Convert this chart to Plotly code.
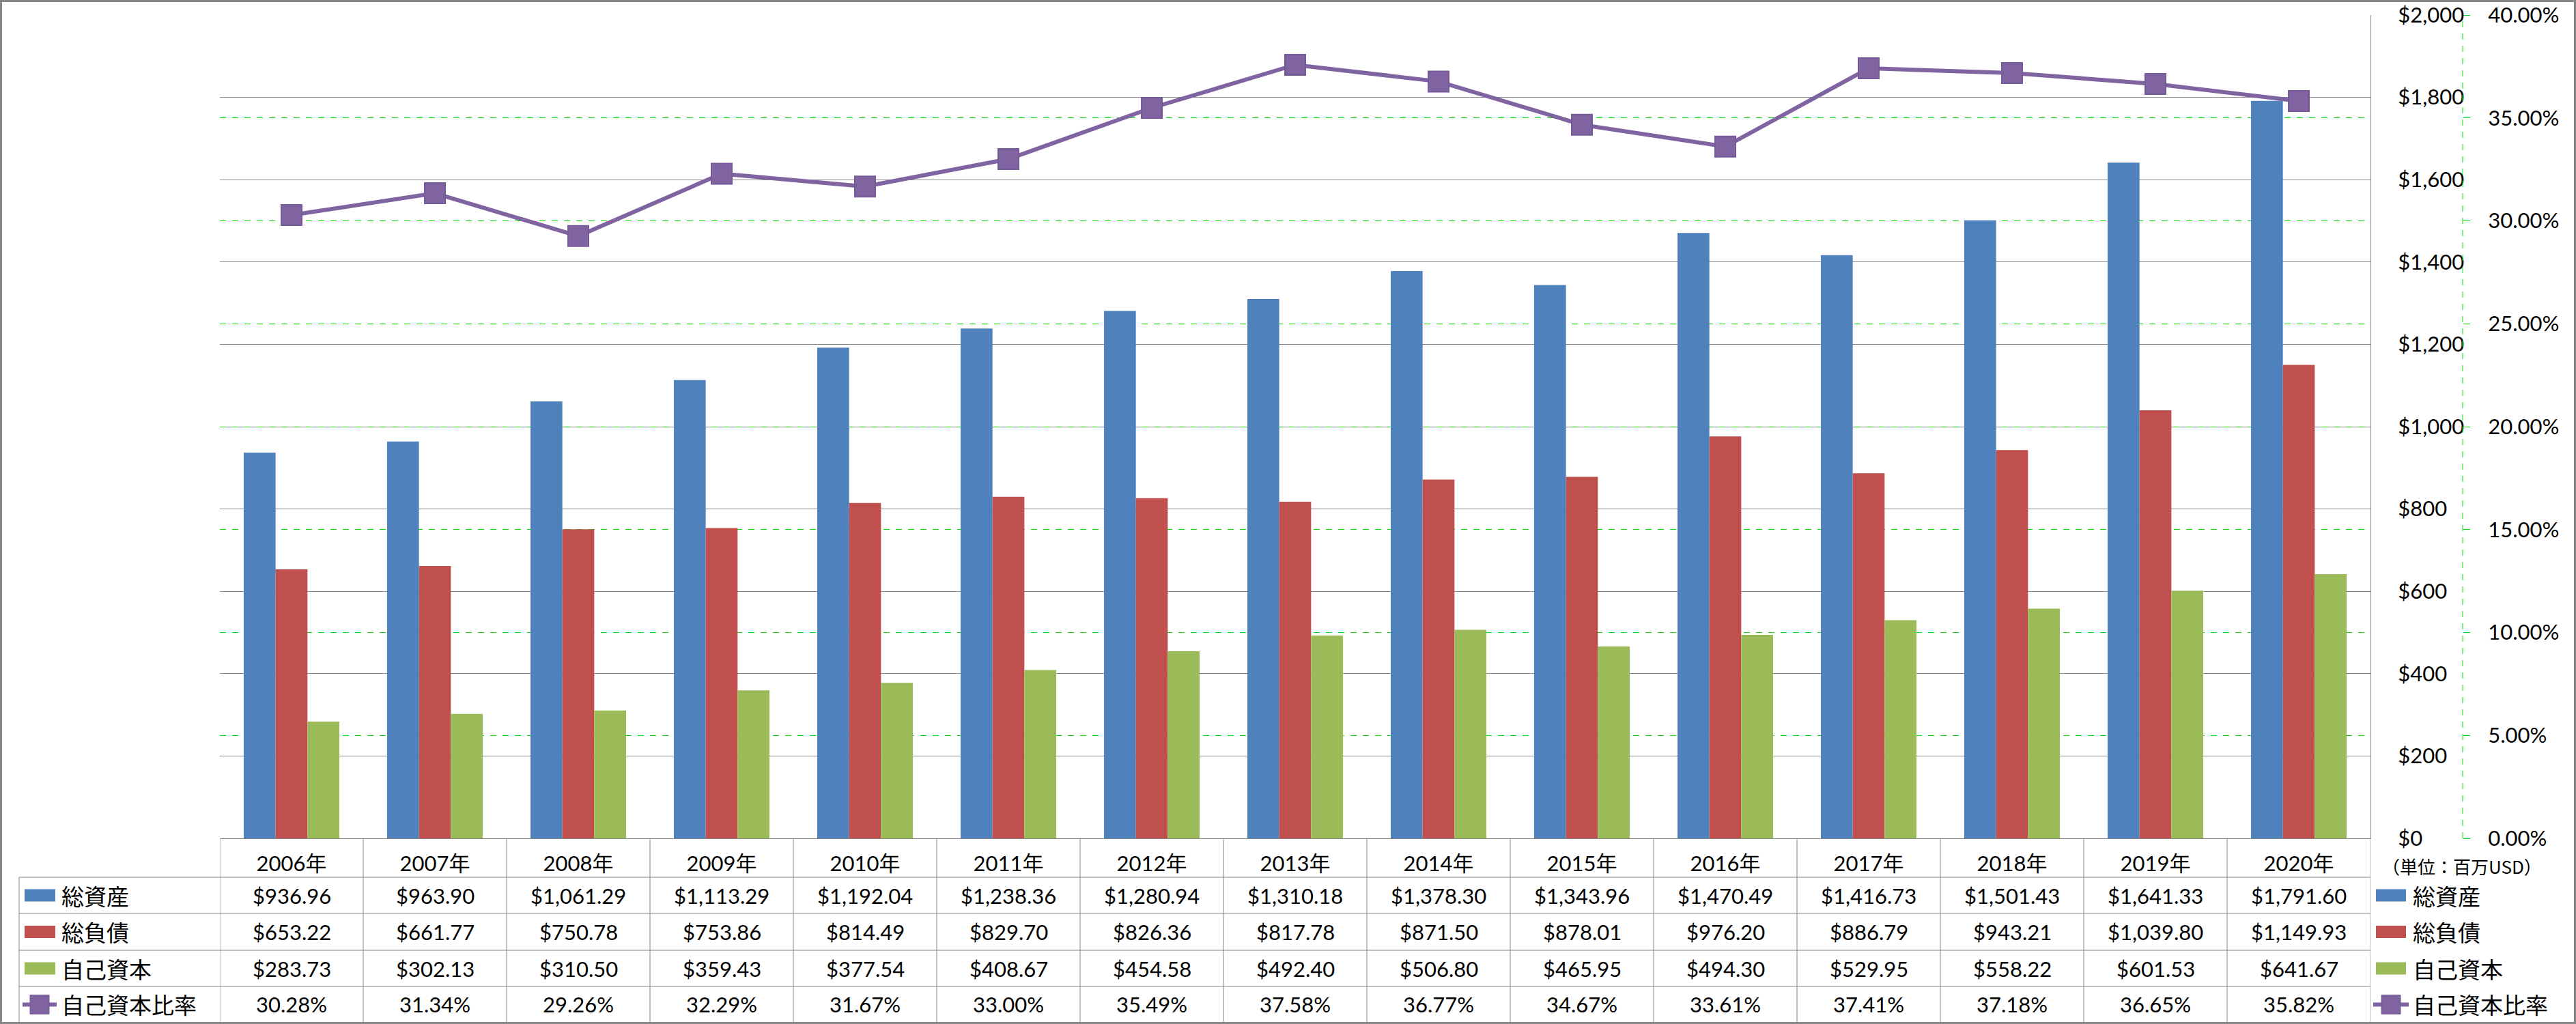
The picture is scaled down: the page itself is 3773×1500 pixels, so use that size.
import plotly.graph_objects as go

years = ["2006年", "2007年", "2008年", "2009年", "2010年", "2011年", "2012年", "2013年",
         "2014年", "2015年", "2016年", "2017年", "2018年", "2019年", "2020年"]
total_assets = [936.96, 963.90, 1061.29, 1113.29, 1192.04, 1238.36, 1280.94, 1310.18,
                1378.30, 1343.96, 1470.49, 1416.73, 1501.43, 1641.33, 1791.60]
total_liab = [653.22, 661.77, 750.78, 753.86, 814.49, 829.70, 826.36, 817.78,
              871.50, 878.01, 976.20, 886.79, 943.21, 1039.80, 1149.93]
equity = [283.73, 302.13, 310.50, 359.43, 377.54, 408.67, 454.58, 492.40,
          506.80, 465.95, 494.30, 529.95, 558.22, 601.53, 641.67]
equity_ratio = [30.28, 31.34, 29.26, 32.29, 31.67, 33.00, 35.49, 37.58,
                36.77, 34.67, 33.61, 37.41, 37.18, 36.65, 35.82]
series_names = ["総資産", "総負債", "自己資本", "自己資本比率"]
unit_label = "（単位：百万USD）"

BLUE, RED, GREEN, PURPLE = "#4F81BD", "#C0504D", "#9BBB59", "#8064A2"
GRAY = "#868686"
GRID_GREEN = "#00E000"

W, H = 3773, 1500
ML, MR, MT, MB = 322, 100, 22, 272
PW = W - ML - MR          # plot area width (paper)
PH = H - MT - MB          # plot area height
PLOT_RIGHT = 3472
X_DOM = (PLOT_RIGHT - ML) / PW
Y2_POS_PX = 3607


def px(xp):
    return (xp - ML) / PW


def py(yp):
    return (H - MB - yp) / PH


NUM_FONT = "Lato, Noto Sans CJK JP, sans-serif"
JP_FONT = "Noto Sans CJK JP, sans-serif"
NUM_SIZE = 31

fig = go.Figure()
for name, vals, col in zip(series_names[:3], [total_assets, total_liab, equity], [BLUE, RED, GREEN]):
    fig.add_trace(go.Bar(x=years, y=vals, name=name, marker=dict(color=col, line=dict(width=0)),
                         showlegend=False))
fig.add_trace(go.Scatter(x=years, y=[v / 100 for v in equity_ratio], name=series_names[3], yaxis="y2",
                         mode="lines+markers",
                         line=dict(color=PURPLE, width=6),
                         marker=dict(symbol="square", size=30, color=PURPLE,
                                     line=dict(color="#76599A", width=2)),
                         showlegend=False))

n = len(years)
fig.update_layout(
    width=W, height=H,
    margin=dict(l=ML, r=MR, t=MT, b=MB, pad=0, autoexpand=False),
    paper_bgcolor="white", plot_bgcolor="white",
    barmode="group", bargap=0.333, bargroupgap=0,
    showlegend=False,
    font=dict(family=NUM_FONT, size=NUM_SIZE, color="black"),
    xaxis=dict(domain=[0, X_DOM], type="category", range=[-0.5, n - 0.5], autorange=False,
               showgrid=False, zeroline=False,
               showline=True, linecolor=GRAY, linewidth=1,
               ticks="", tickfont=dict(family=NUM_FONT, size=NUM_SIZE, color="black"),
               ticklabelstandoff=10),
    yaxis=dict(side="right", range=[0, 2000], autorange=False, dtick=200, tickprefix="$", tickformat=",",
               showgrid=True, gridcolor=GRAY, gridwidth=1, zeroline=False,
               showline=True, linecolor=GRAY, linewidth=1,
               ticks="", ticklabelstandoff=33,
               tickfont=dict(family=NUM_FONT, size=NUM_SIZE, color="black")),
    yaxis2=dict(overlaying="y", side="right", anchor="free", position=px(Y2_POS_PX),
                range=[0, 0.40], autorange=False, dtick=0.05, tickformat=".2%",
                showgrid=True, gridcolor=GRID_GREEN, gridwidth=1, griddash="dash",
                zeroline=False, showline=False,
                ticks="outside", ticklen=10, tickcolor=GRID_GREEN, tickwidth=1,
                ticklabelstandoff=20,
                tickfont=dict(family=NUM_FONT, size=NUM_SIZE, color="black")),
)

shapes = []
line_style = dict(color=GRAY, width=1)
# table horizontal lines
row_bounds = [1285, 1338, 1392, 1445]
for yb in row_bounds:
    shapes.append(dict(type="line", xref="paper", yref="paper", x0=px(28), x1=X_DOM,
                       y0=py(yb), y1=py(yb), line=line_style))
# table vertical lines at category boundaries
for k in range(n + 1):
    shapes.append(dict(type="line", xref="x", yref="paper", x0=k - 0.5, x1=k - 0.5,
                       y0=py(1228), y1=py(1498), line=line_style))
# row label column left border
shapes.append(dict(type="line", xref="paper", yref="paper", x0=px(28), x1=px(28),
                   y0=py(1285), y1=py(1498), line=line_style))
# secondary axis dashed line
shapes.append(dict(type="line", xref="paper", yref="y2", x0=px(Y2_POS_PX), x1=px(Y2_POS_PX),
                   y0=0, y1=0.40, line=dict(color=GRID_GREEN, width=1, dash="dash")))
# outer border
shapes.append(dict(type="rect", xref="paper", yref="paper", x0=px(1.5), x1=px(W - 1.5),
                   y0=py(H - 1.5), y1=py(1.5), line=dict(color=GRAY, width=3),
                   fillcolor="rgba(0,0,0,0)", layer="above"))

row_centers = [1311.5, 1365, 1418.5, 1471.5]
colors = [BLUE, RED, GREEN, PURPLE]
annotations = []


def add_key(cx_left, cx_right, yc, col, is_line):
    if not is_line:
        shapes.append(dict(type="rect", xref="paper", yref="paper", x0=px(cx_left), x1=px(cx_right),
                           y0=py(yc + 9), y1=py(yc - 9), line=dict(width=0), fillcolor=col))
    else:
        shapes.append(dict(type="line", xref="paper", yref="paper", x0=px(cx_left), x1=px(cx_right),
                           y0=py(yc), y1=py(yc), line=dict(color=col, width=6)))
        mid = (cx_left + cx_right) / 2
        shapes.append(dict(type="rect", xref="paper", yref="paper", x0=px(mid - 14), x1=px(mid + 14),
                           y0=py(yc + 14), y1=py(yc - 14), line=dict(color="#76599A", width=1),
                           fillcolor=col))


for r, (name, yc, col) in enumerate(zip(series_names, row_centers, colors)):
    is_line = r == 3
    # left row label
    if is_line:
        add_key(33, 83, yc, col, True)
    else:
        add_key(36, 81, yc, col, False)
    annotations.append(dict(text=name, xref="paper", yref="paper", x=px(88), y=py(yc),
                            xanchor="left", yanchor="middle", showarrow=False,
                            font=dict(family=JP_FONT, size=33, color="black")))
    # right legend
    if is_line:
        add_key(3476, 3528, yc, col, True)
    else:
        add_key(3480, 3524, yc, col, False)
    annotations.append(dict(text=name, xref="paper", yref="paper", x=px(3532), y=py(yc),
                            xanchor="left", yanchor="middle", showarrow=False,
                            font=dict(family=JP_FONT, size=33, color="black")))

# table values
table_rows = [total_assets, total_liab, equity]
for r, vals in enumerate(table_rows):
    for i, v in enumerate(vals):
        annotations.append(dict(text=f"${v:,.2f}", xref="x", yref="paper", x=years[i], y=py(row_centers[r]),
                                xanchor="center", yanchor="middle", showarrow=False,
                                font=dict(family=NUM_FONT, size=NUM_SIZE, color="black")))
for i, v in enumerate(equity_ratio):
    annotations.append(dict(text=f"{v:.2f}%", xref="x", yref="paper", x=years[i], y=py(row_centers[3]),
                            xanchor="center", yanchor="middle", showarrow=False,
                            font=dict(family=NUM_FONT, size=NUM_SIZE, color="black")))

annotations.append(dict(text=unit_label, xref="paper", yref="paper", x=px(3606), y=py(1268),
                        xanchor="center", yanchor="middle", showarrow=False,
                        font=dict(family=JP_FONT, size=26, color="black")))

fig.update_layout(shapes=shapes, annotations=annotations)

fig.write_html("out.html", config={"displayModeBar": False},
               post_script="document.body.style.margin='0';document.body.style.overflow='hidden';")
